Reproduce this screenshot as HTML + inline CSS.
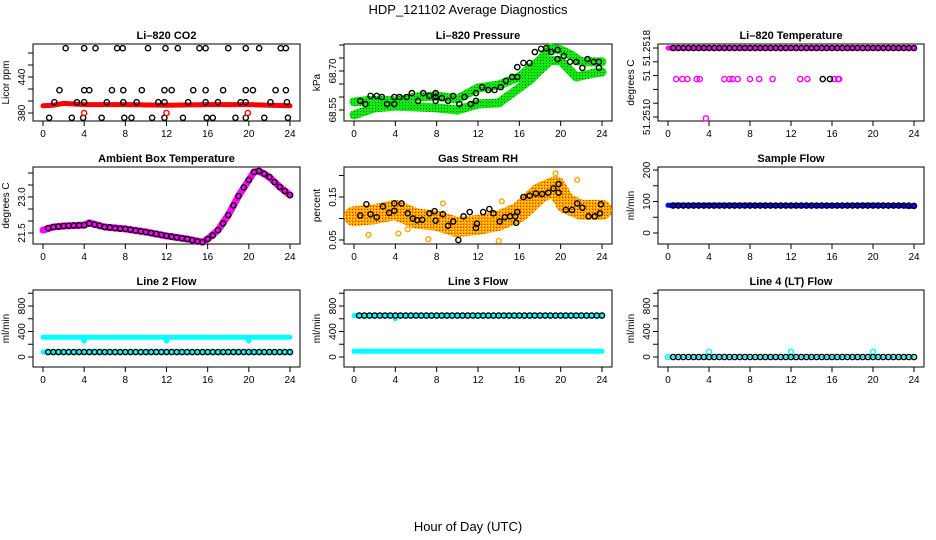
<!DOCTYPE html>
<html><head><meta charset="utf-8"><style>
html,body{margin:0;padding:0;background:#fff;}
svg{display:block;font-family:"Liberation Sans",sans-serif;}
</style></head><body>
<svg id="c" width="936" height="540" viewBox="0 0 936 540" xmlns="http://www.w3.org/2000/svg">
<defs>
<pattern id="pg" width="3" height="3" patternUnits="userSpaceOnUse"><rect width="3" height="3" fill="#10e810"/><rect width="1" height="1" fill="#007000"/></pattern>
<pattern id="po" width="3" height="3" patternUnits="userSpaceOnUse"><rect width="3" height="3" fill="#ffa500"/><rect width="1" height="1" fill="#ffff00"/><rect x="1" y="2" width="1" height="1" fill="#ff2000"/></pattern>
</defs>
<text x="468" y="14" text-anchor="middle" font-size="13">HDP_121102  Average Diagnostics</text>
<text x="468" y="531" text-anchor="middle" font-size="13">Hour of Day (UTC)</text>
</svg>
<script>
// ---- shared data ----
const xTicks = [0,4,8,12,16,20,24];
const H48 = [0.5,1,1.5,2,2.5,3,3.5,4,4.5,5,5.5,6,6.5,7,7.5,8,8.5,9,9.5,10,10.5,11,11.5,12,12.5,13,13.5,14,14.5,15,15.5,16,16.5,17,17.5,18,18.5,19,19.5,20,20.5,21,21.5,22,22.5,23,23.5,24];
// CO2
const co2Ticks = [380,400,420,440,460,480];
const co2Labels = ['380','','','440','',''];
const co2BandH = [0,1,2,3,4,6,8,12,16,20,22,24];
const co2BandV = [392,393,396,395,394,394,394,393,394,394,393,392];
const co2CircH = [2.2,4.0,5.1,7.2,7.75,10.2,11.9,13.1,15.2,15.8,18.0,19.7,21.0,23.1,23.6, 1.6,4.0,4.5,6.7,7.8,9.6,11.8,12.5,14.6,15.8,17.5,19.7,20.4,22.6,23.6, 1.1,3.3,4.0,6.2,7.8,9.1,11.2,11.8,14.1,15.8,17.0,19.2,19.7,22.1,23.7, 0.6,2.8,3.9,5.7,7.9,8.6,10.6,11.8,13.6,15.9,16.5,18.7,19.7,21.5,23.8];
const co2CircV = [488,488,488,488,488,488,488,488,488,488,488,488,488,488,488, 418,418,418,418,418,418,418,418,418,418,418,418,418,418,418, 398,398,398,398,398,398,398,398,398,398,398,398,398,398,398, 372,372,372,372,372,372,372,372,372,372,372,372,372,372,372];
const co2RedH = [4.0,12.0,19.9];
const co2RedV = [380,380,380];
// Pressure
const presTicks = [68.55,68.60,68.65,68.70,68.75,68.80];
const presLabels = ['68.55','','','68.70','',''];
const presUpH = [0,2,4,6,8,10,12,14,16,18,19,20,21,22,23,24];
const presUpV = [68.581,68.588,68.585,68.600,68.604,68.592,68.635,68.646,68.677,68.742,68.788,68.781,68.762,68.735,68.735,68.735];
const presLoH = [0,2,4,6,8,10,12,14,16,17,18,19,20,21.5,23,24];
const presLoV = [68.531,68.558,68.565,68.562,68.558,68.550,68.573,68.577,68.635,68.665,68.704,68.740,68.740,68.677,68.690,68.696];
const presCircH = [0.6,1.1,1.6,2.2,2.7,3.2,3.9,3.9,4.4,5.1,5.6,6.2,6.7,7.3,7.9,7.9,7.9,8.5,9.1,9.6,10.2,10.7,11.3,11.8,11.8,12.4,13,13.6,14.2,14.7,15.3,15.8,15.8,16.4,17,17.5,18.1,18.6,19.1,19.7,19.7,20.3,20.9,21.5,22.1,22.6,23.2,23.7,23.7];
const presCircV = [68.585,68.573,68.604,68.604,68.600,68.573,68.600,68.573,68.600,68.600,68.615,68.585,68.615,68.604,68.615,68.585,68.600,68.596,68.585,68.604,68.573,68.600,68.573,68.585,68.615,68.638,68.627,68.627,68.638,68.662,68.677,68.715,68.677,68.731,68.731,68.773,68.785,68.788,68.773,68.781,68.746,68.758,68.735,68.735,68.712,68.746,68.735,68.712,68.735];
// Li-820 Temperature
const tmpTicks = [51.2508,51.2510,51.2512,51.2514,51.2516,51.2518];
const tmpLabels = ['51.2510','','','51','','51.2518'];
const tmpTopV = [51.2518,51.2518,51.2518,51.2518,51.2518,51.2518,51.2518,51.2518,51.2518,51.2518,51.2518,51.2518,51.2518,51.2518,51.2518,51.2518,51.2518,51.2518,51.2518,51.2518,51.2518,51.2518,51.2518,51.2518,51.2518,51.2518,51.2518,51.2518,51.2518,51.2518,51.2518,51.2518,51.2518,51.2518,51.2518,51.2518,51.2518,51.2518,51.2518,51.2518,51.2518,51.2518,51.2518,51.2518,51.2518,51.2518,51.2518,51.2518];
const tmpMagH = [0.8,1.4,1.9,2.8,3.1,5.5,6.0,6.3,6.8,8.0,8.9,10.2,12.9,13.6,16.2,16.6,16.7,3.7];
const tmpMagV = [51.25135,51.25135,51.25135,51.25135,51.25135,51.25135,51.25135,51.25135,51.25135,51.25135,51.25135,51.25135,51.25135,51.25135,51.25135,51.25135,51.25135,51.25078];
const tmpBlkH = [15.1,15.8];
const tmpBlkV = [51.25135,51.25135];
// Ambient box temperature
const ambTicks = [21.5,22.0,22.5,23.0,23.5,24.0];
const ambLabels = ['21.5','','','23.0','',''];
const ambBandH = [0,1,2,4,4.5,6,8,10,12,14,15.5,16,17,18,19,20,20.5,21,22,23,24];
const ambBandV = [21.62,21.75,21.79,21.83,21.92,21.75,21.67,21.54,21.38,21.25,21.12,21.25,21.62,22.25,23.04,23.71,24.04,24.08,23.83,23.42,23.08];
const ambCircV = [21.7,21.75,21.77,21.79,21.8,21.81,21.82,21.83,21.9,21.85,21.8,21.75,21.73,21.7,21.68,21.67,21.64,21.6,21.57,21.54,21.5,21.46,21.42,21.38,21.35,21.31,21.28,21.25,21.2,21.15,21.12,21.25,21.4,21.62,21.9,22.25,22.65,23.04,23.4,23.71,24.04,24.08,23.97,23.83,23.62,23.42,23.25,23.08];
// Gas stream RH
const rhTicks = [0.05,0.10,0.15,0.20];
const rhLabels = ['0.05','','0.15',''];
const rhBandH = [0,2,4,6,8,10,12,14,16,18,19.5,20.5,22,24];
const rhBandV = [0.105,0.11,0.12,0.10,0.095,0.08,0.085,0.095,0.115,0.16,0.175,0.135,0.12,0.12];
const rhOutH = [1.4,4.3,7.2,8.6,14.0,14.3,21.6,19.5,5.2];
const rhOutV = [0.062,0.065,0.052,0.135,0.048,0.14,0.19,0.205,0.075];
const rhCircH = [0.6,1.2,1.6,2.2,2.8,3.4,3.9,3.9,4.6,5.2,5.7,6.1,6.6,7.3,7.8,7.9,8.6,9.1,9.6,10.1,10.6,11.2,11.8,11.9,12.5,13.1,13.5,14.1,14.6,15.1,15.6,15.7,15.8,16.4,17.0,17.6,18.2,18.8,19.3,19.8,19.8,20.5,21.1,21.6,22.1,22.7,23.3,23.8,23.9];
const rhCircV = [0.107,0.133,0.11,0.103,0.128,0.113,0.135,0.118,0.135,0.112,0.1,0.096,0.097,0.112,0.117,0.095,0.11,0.083,0.093,0.05,0.105,0.115,0.078,0.088,0.115,0.122,0.112,0.093,0.103,0.105,0.105,0.09,0.115,0.15,0.153,0.158,0.157,0.16,0.17,0.18,0.16,0.12,0.12,0.135,0.125,0.105,0.105,0.112,0.133];
// Sample flow
const sfTicks = [0,50,100,150,200];
const sfLabels = ['0','','100','','200'];
const sfBandH = [0,4,8,12,16,20,23,23.5,24];
const sfBandV = [88,88,88,87,87,88,87,84,86];
const sfCircV = [87,87,87,87,87,87,87,87,87,87,87,87,87,87,87,87,87,87,87,87,87,87,87,87,87,87,87,87,87,87,87,87,87,87,87,87,87,87,87,87,87,87,87,87,87,87,87,86];
// Flows
const flTicks = [0,200,400,600,800,1000];
const flLabels = ['0','','400','','800',''];
const l2UpH = [0,3.9,4.0,4.1,11.9,12.0,12.1,19.9,20.0,20.1,24];
const l2UpV = [310,310,250,310,310,250,310,310,250,310,310];
const l2LoH = [0,24];
const l2LoV = [78,78];
const l2CircV = [78,78,78,78,78,78,78,78,78,78,78,78,78,78,78,78,78,78,78,78,78,78,78,78,78,78,78,78,78,78,78,78,78,78,78,78,78,78,78,78,78,78,78,78,78,78,78,78];
const l3UpH = [0,3.9,4.0,4.1,24];
const l3UpV = [650,650,600,650,650];
const l3LoH = [0,24];
const l3LoV = [90,90];
const l3CircV = [650,650,650,650,650,650,650,650,650,650,650,650,650,650,650,650,650,650,650,650,650,650,650,650,650,650,650,650,650,650,650,650,650,650,650,650,650,650,650,650,650,650,650,650,650,650,650,650];
const l4CyanH = [0,4,12,20];
const l4CyanV = [0,80,80,80];
const l4CircV = [0,0,0,0,0,0,0,0,0,0,0,0,0,0,0,0,0,0,0,0,0,0,0,0,0,0,0,0,0,0,0,0,0,0,0,0,0,0,0,0,0,0,0,0,0,0,0,0];

// ---- rendering ----
const svg = document.getElementById('c');
const NS = 'http://www.w3.org/2000/svg';
const colL = [33,344,658], colW = [267,268,266], rowT = [44,167,290], rowH = 77;
function mk(tag, at, parent){ const e=document.createElementNS(NS,tag); for(const k in at) e.setAttribute(k,at[k]); (parent||svg).appendChild(e); return e; }
function makePanel(col,row,name,title,ylab,v0,p0,v1,p1,ticks,labels){
  const g = mk('g',{});
  
  
  const L=colL[col], W=colW[col], T=rowT[row];
  const x = h => L+10+h*(W-20)/24;
  const y = v => p0+(v-v0)*(p1-p0)/(v1-v0);
  const t = mk('text',{x:L+W/2,y:T-5,'text-anchor':'middle','font-size':11,'font-weight':'bold'},g);
  t.textContent = title;
  
  
  const yl = mk('text',{x:0,y:0,'text-anchor':'middle','font-size':10,transform:`translate(${L-24},${T+rowH/2}) rotate(-90)`},g);
  yl.textContent = ylab;
  
  
  const box = mk('rect',{x:L,y:T,width:W,height:rowH,fill:'none',stroke:'#000','stroke-width':1},g);
  
  
  xTicks.forEach(h=>{
    mk('line',{x1:x(h),x2:x(h),y1:T+rowH,y2:T+rowH+5,stroke:'#000'},g);
    const tl = mk('text',{x:x(h),y:T+rowH+16,'text-anchor':'middle','font-size':10},g);
    tl.textContent = h;
    
    
  });
  ticks.forEach((v,i)=>{
    mk('line',{x1:L-5,x2:L,y1:y(v),y2:y(v),stroke:'#000'},g);
    if(labels[i]){
      const tl = mk('text',{x:0,y:0,'text-anchor':'middle','font-size':10,transform:`translate(${L-8},${y(v)}) rotate(-90)`},g);
      tl.textContent = labels[i];
      
      
    }
  });
  const clip = mk('g',{},g);
  return {g:clip,x,y};
}
function band(P,hs,vs,color,w,name){
  const pts = hs.map((h,i)=>P.x(h).toFixed(1)+','+P.y(vs[i]).toFixed(1)).join(' ');
  const e = mk('polyline',{points:pts,fill:'none',stroke:color,'stroke-width':w,'stroke-linejoin':'round','stroke-linecap':'round'},P.g);
  
  
}
function circles(P,hs,vs,color,name,r){
  hs.forEach((h,i)=>{
    const e = mk('circle',{cx:P.x(h),cy:P.y(vs[i]),r:r||2.6,fill:'none',stroke:color,'stroke-width':1.4},P.g);
    
    
  });
}
// Row 1
let P = makePanel(0,0,'co2-panel','Li\u2013820 CO2','Licor ppm',380,113,440,77,co2Ticks,co2Labels);
band(P,co2BandH,co2BandV,'#ff0000',5,'co2-red-series');
circles(P,co2CircH,co2CircV,'#000','co2-point');
circles(P,co2RedH,co2RedV,'#ff0000','co2-red-point');
P = makePanel(1,0,'pressure-panel','Li\u2013820 Pressure','kPa',68.55,110,68.70,71,presTicks,presLabels);
band(P,presUpH,presUpV,'url(#pg)',9,'pressure-upper-series');
band(P,presLoH,presLoV,'url(#pg)',9,'pressure-lower-series');
circles(P,presCircH,presCircV,'#000','pressure-point');
P = makePanel(2,0,'li820-temperature-panel','Li\u2013820 Temperature','degrees C',51.2508,117,51.2518,48,tmpTicks,tmpLabels);
band(P,[0,24],[51.2518,51.2518],'#ff00ff',5,'temperature-magenta-series');
circles(P,H48,tmpTopV,'#000','temperature-point');
circles(P,tmpMagH,tmpMagV,'#ff00ff','temperature-magenta-point');
circles(P,tmpBlkH,tmpBlkV,'#000','temperature-mid-point');
// Row 2
P = makePanel(0,1,'ambient-temperature-panel','Ambient Box Temperature','degrees C',21.5,233,23.0,197,ambTicks,ambLabels);
band(P,ambBandH,ambBandV,'#ff00ff',7,'ambient-magenta-series');
circles(P,H48,ambCircV,'#000','ambient-point');
P = makePanel(1,1,'rh-panel','Gas Stream RH','percent',0.05,240,0.15,197,rhTicks,rhLabels);
band(P,rhBandH,rhBandV,'url(#po)',20,'rh-cloud-series');
circles(P,rhOutH,rhOutV,'#ffa500','rh-outlier-point',2.4);
circles(P,rhCircH,rhCircV,'#000','rh-point');
P = makePanel(2,1,'sample-flow-panel','Sample Flow','ml/min',0,233,200,170,sfTicks,sfLabels);
band(P,sfBandH,sfBandV,'#0000ff',5,'sample-flow-blue-series');
circles(P,H48,sfCircV,'#000','sample-flow-point');
// Row 3
P = makePanel(0,2,'line2-flow-panel','Line 2 Flow','ml/min',0,357,800,306,flTicks,flLabels);
band(P,l2UpH,l2UpV,'#00ffff',5,'line2-upper-series');
band(P,l2LoH,l2LoV,'#00ffff',5,'line2-lower-series');
circles(P,H48,l2CircV,'#000','line2-point');
P = makePanel(1,2,'line3-flow-panel','Line 3 Flow','ml/min',0,357,800,306,flTicks,flLabels);
band(P,l3UpH,l3UpV,'#00ffff',5,'line3-upper-series');
band(P,l3LoH,l3LoV,'#00ffff',5,'line3-lower-series');
circles(P,H48,l3CircV,'#000','line3-point');
P = makePanel(2,2,'line4-flow-panel','Line 4 (LT) Flow','ml/min',0,357,800,306,flTicks,flLabels);
band(P,[0,24],[0,0],'#00ffff',2,'line4-series');
circles(P,l4CyanH,l4CyanV,'#00ffff','line4-cyan-point');
circles(P,H48,l4CircV,'#000','line4-point');
</script>
</body></html>
